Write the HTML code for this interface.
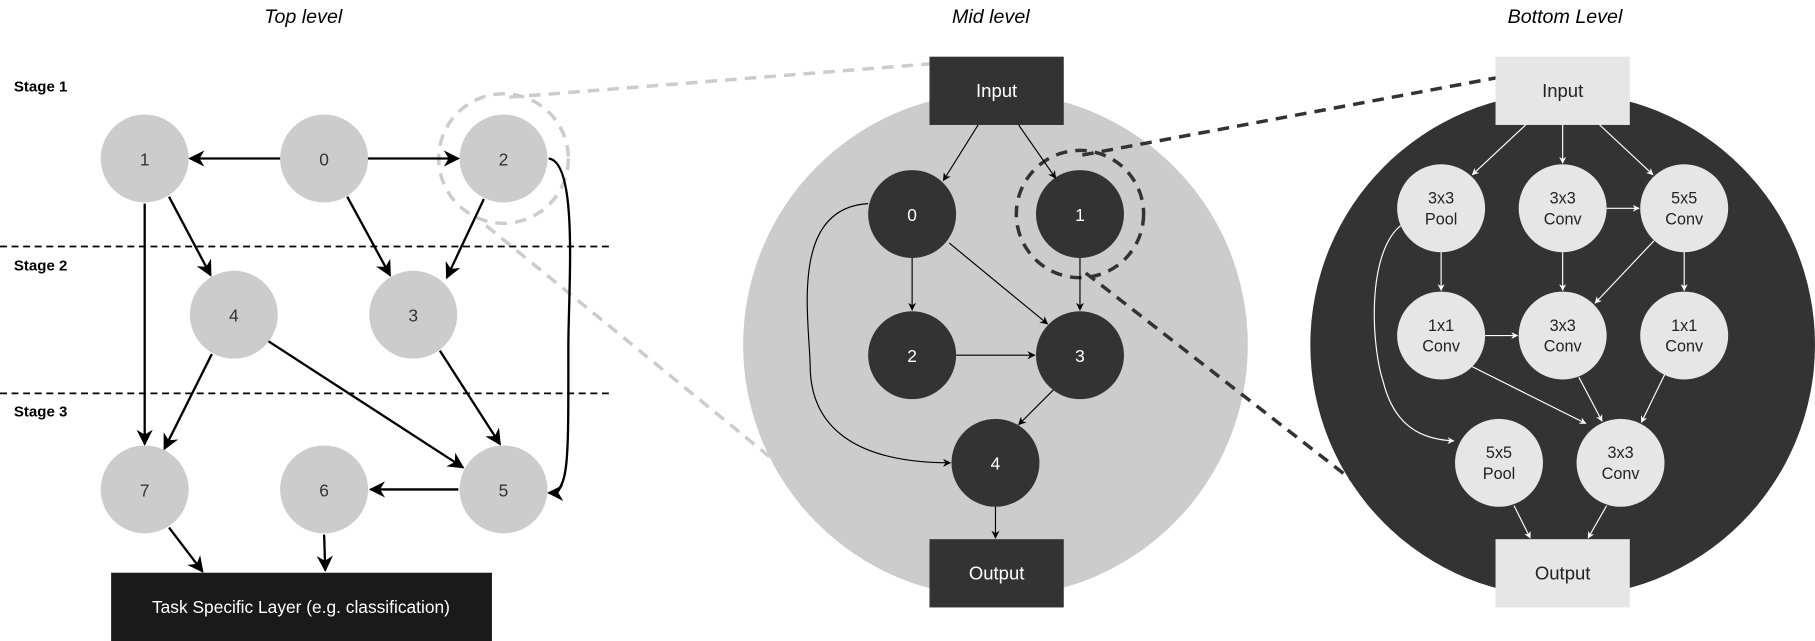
<!DOCTYPE html>
<html><head><meta charset="utf-8"><style>
html,body{margin:0;padding:0;background:#fff;overflow:hidden}
svg{display:block;font-family:"Liberation Sans",sans-serif}
</style></head><body>
<svg width="1815" height="641" viewBox="0 0 1568 554" preserveAspectRatio="none">
<defs>
<marker id="ab" viewBox="0 0 10 10" refX="9" refY="5" markerWidth="7" markerHeight="7" orient="auto"><path d="M0,0 L10,5 L0,10 L3,5z" fill="#000"/></marker>
<marker id="aw" viewBox="0 0 10 10" refX="9" refY="5" markerWidth="6" markerHeight="6" orient="auto"><path d="M0,0 L10,5 L0,10 L3,5z" fill="#fff"/></marker>
</defs>
<g font-style="italic" font-size="17" text-anchor="middle" fill="#000">
<text x="262" y="20">Top level</text>
<text x="856" y="20">Mid level</text>
<text x="1352" y="20">Bottom Level</text>
</g>
<g fill="none" stroke-width="3" stroke-dasharray="10,7">
<line x1="440" y1="84" x2="806" y2="55" stroke="#ccc"/>
<line x1="420" y1="195" x2="686" y2="412" stroke="#ccc"/>
</g>
<g>
<line x1="0" y1="213" x2="528" y2="213" stroke="#000" stroke-width="1.5" stroke-dasharray="6,4"/>
<line x1="0" y1="340" x2="528" y2="340" stroke="#000" stroke-width="1.5" stroke-dasharray="6,4"/>
<g font-weight="bold" font-size="13">
<text x="12" y="79">Stage 1</text>
<text x="12" y="234">Stage 2</text>
<text x="12" y="360">Stage 3</text>
</g>
<circle cx="435" cy="137" r="56" fill="none" stroke="#ccc" stroke-width="3" stroke-dasharray="10,7"/>
<g fill="#ccc">
<circle cx="125" cy="137" r="38"/>
<circle cx="280" cy="137" r="38"/>
<circle cx="435" cy="137" r="38"/>
<circle cx="202" cy="272" r="38"/>
<circle cx="357" cy="272" r="38"/>
<circle cx="125" cy="423" r="38"/>
<circle cx="280" cy="423" r="38"/>
<circle cx="435" cy="423" r="38"/>
</g>
<g font-size="15" fill="#333" text-anchor="middle">
<text x="125" y="143">1</text><text x="280" y="143">0</text><text x="435" y="143">2</text>
<text x="202" y="278">4</text><text x="357" y="278">3</text>
<text x="125" y="429">7</text><text x="280" y="429">6</text><text x="435" y="429">5</text>
</g>
<g stroke="#000" stroke-width="2" fill="none" marker-end="url(#ab)">
<line x1="242" y1="137" x2="164" y2="137"/>
<line x1="318" y1="137" x2="396" y2="137"/>
<line x1="125" y1="176" x2="125" y2="384"/>
<line x1="146" y1="170" x2="182" y2="238"/>
<line x1="300" y1="170" x2="337" y2="238"/>
<line x1="418" y1="172" x2="386" y2="240"/>
<line x1="183" y1="306" x2="142" y2="388"/>
<line x1="232" y1="295" x2="400" y2="404"/>
<line x1="380" y1="303" x2="432" y2="384"/>
<path d="M474,137 C500,140 491,250 491,300 C491,400 492,426 474,426"/>
<line x1="396" y1="423" x2="320" y2="423"/>
<line x1="146" y1="456" x2="175" y2="494"/>
<line x1="280" y1="462" x2="281" y2="493"/>
</g>
<rect x="96" y="495" width="329" height="59" fill="#1a1a1a"/>
<text x="260" y="530" font-size="15" fill="#fff" text-anchor="middle">Task Specific Layer (e.g. classification)</text>
</g>
<g>
<circle cx="860" cy="298" r="218" fill="#ccc"/>
<rect x="803" y="49" width="116" height="59" fill="#333"/>
<text x="861" y="84" font-size="16" fill="#fff" text-anchor="middle">Input</text>
<rect x="803" y="466" width="116" height="59" fill="#333"/>
<text x="861" y="501" font-size="16" fill="#fff" text-anchor="middle">Output</text>
<g fill="#333">
<circle cx="788" cy="185" r="38"/>
<circle cx="933" cy="185" r="38"/>
<circle cx="788" cy="307" r="38"/>
<circle cx="933" cy="307" r="38"/>
<circle cx="860" cy="400" r="38"/>
</g>
<circle cx="933" cy="185" r="55" fill="none" stroke="#333" stroke-width="3" stroke-dasharray="10,7"/>
<g font-size="15" fill="#fff" text-anchor="middle">
<text x="788" y="191">0</text><text x="933" y="191">1</text><text x="788" y="313">2</text><text x="933" y="313">3</text><text x="860" y="406">4</text>
</g>
<g stroke="#000" stroke-width="1" fill="none" marker-end="url(#ab)">
<line x1="845" y1="108" x2="815" y2="156"/>
<line x1="880" y1="108" x2="912" y2="154"/>
<line x1="788" y1="223" x2="788" y2="268"/>
<line x1="820" y1="210" x2="905" y2="280"/>
<line x1="933" y1="223" x2="933" y2="268"/>
<line x1="826" y1="307" x2="894" y2="307"/>
<line x1="910" y1="337" x2="880" y2="367"/>
<path d="M750,176 C680,180 700,280 700,320 C702,370 740,400 821,400"/>
<line x1="860" y1="438" x2="860" y2="465"/>
</g>
</g>
<g fill="none" stroke="#333" stroke-width="3" stroke-dasharray="10,7">
<line x1="935" y1="134" x2="1294" y2="67"/>
<line x1="938" y1="236" x2="1226" y2="460"/>
</g>
<g>
<circle cx="1350" cy="298" r="218" fill="#333"/>
<rect x="1292" y="49" width="116" height="59" fill="#e6e6e6"/>
<text x="1350" y="84" font-size="16" fill="#222" text-anchor="middle">Input</text>
<rect x="1292" y="466" width="116" height="59" fill="#e6e6e6"/>
<text x="1350" y="501" font-size="16" fill="#222" text-anchor="middle">Output</text>
<g fill="#e6e6e6">
<circle cx="1245" cy="180" r="38"/>
<circle cx="1350" cy="180" r="38"/>
<circle cx="1455" cy="180" r="38"/>
<circle cx="1245" cy="290" r="38"/>
<circle cx="1350" cy="290" r="38"/>
<circle cx="1455" cy="290" r="38"/>
<circle cx="1295" cy="400" r="38"/>
<circle cx="1400" cy="400" r="38"/>
</g>
<g font-size="14" fill="#222" text-anchor="middle">
<text x="1245" y="176">3x3</text><text x="1245" y="194">Pool</text>
<text x="1350" y="176">3x3</text><text x="1350" y="194">Conv</text>
<text x="1455" y="176">5x5</text><text x="1455" y="194">Conv</text>
<text x="1245" y="286">1x1</text><text x="1245" y="304">Conv</text>
<text x="1350" y="286">3x3</text><text x="1350" y="304">Conv</text>
<text x="1455" y="286">1x1</text><text x="1455" y="304">Conv</text>
<text x="1295" y="396">5x5</text><text x="1295" y="414">Pool</text>
<text x="1400" y="396">3x3</text><text x="1400" y="414">Conv</text>
</g>
<g stroke="#fff" stroke-width="1" fill="none" marker-end="url(#aw)">
<line x1="1318" y1="108" x2="1272" y2="151"/>
<line x1="1350" y1="108" x2="1350" y2="141"/>
<line x1="1382" y1="108" x2="1428" y2="151"/>
<line x1="1388" y1="180" x2="1416" y2="180"/>
<line x1="1245" y1="218" x2="1245" y2="251"/>
<line x1="1350" y1="218" x2="1350" y2="251"/>
<line x1="1429" y1="208" x2="1378" y2="262"/>
<line x1="1455" y1="218" x2="1455" y2="251"/>
<line x1="1283" y1="290" x2="1311" y2="290"/>
<line x1="1272" y1="317" x2="1370" y2="366"/>
<line x1="1364" y1="326" x2="1384" y2="364"/>
<line x1="1438" y1="324" x2="1418" y2="365"/>
<path d="M1210,195 C1180,220 1185,300 1195,330 C1205,370 1230,380 1256,381"/>
<line x1="1308" y1="437" x2="1322" y2="465"/>
<line x1="1388" y1="437" x2="1372" y2="465"/>
</g>
</g>
</svg>
</body></html>
